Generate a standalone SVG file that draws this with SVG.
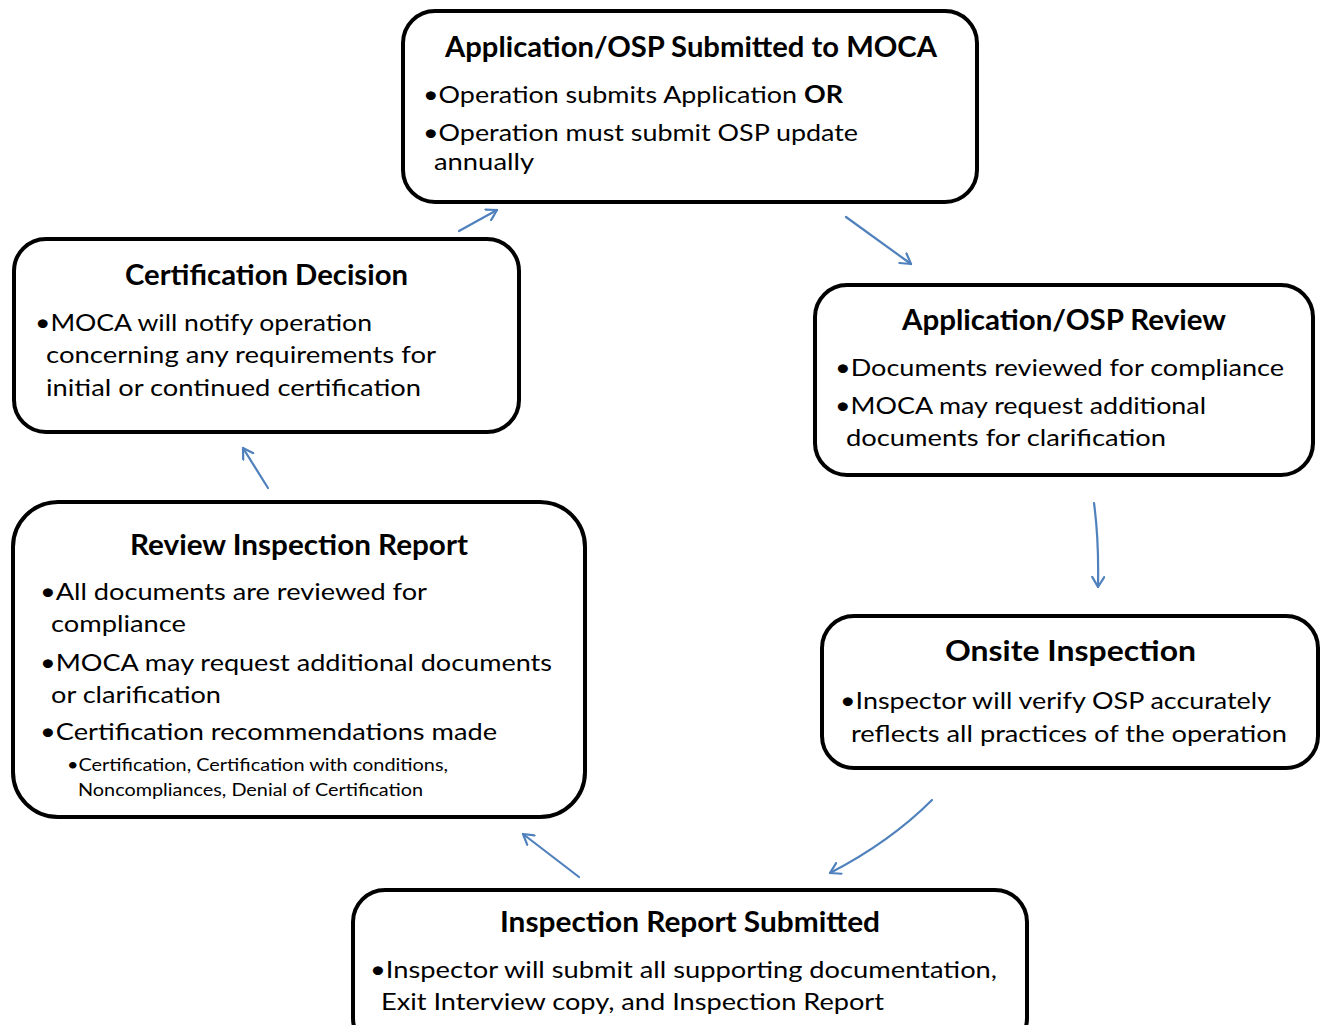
<svg xmlns="http://www.w3.org/2000/svg" width="1321" height="1025" viewBox="0 0 1321 1025">
<defs>
<style>
.box{fill:#fff;stroke:#000;stroke-width:4}
.t{font-family:Lato,"Open Sans","Liberation Sans",sans-serif;font-weight:bold;font-size:28px;fill:#000}
.b{font-family:Lato,"Open Sans","Liberation Sans",sans-serif;font-size:24px;fill:#000}
.s{font-family:Lato,"Open Sans","Liberation Sans",sans-serif;font-size:18px;fill:#000}
.c{fill:none;stroke:#4f81bd;stroke-width:2.2;stroke-linecap:round}
</style>
<marker id="ah" viewBox="0 0 12 14" refX="11" refY="7" markerWidth="12" markerHeight="14" markerUnits="userSpaceOnUse" orient="auto">
<path d="M1,1 L11,7 L1,13" fill="none" stroke="#4f81bd" stroke-width="2.2" stroke-linecap="round" stroke-linejoin="round"/>
</marker>
</defs>
<rect width="1321" height="1025" fill="#fff"/>
<g id="connectors">
<path class="c" d="M459,231 L497,210" marker-end="url(#ah)"/>
<path class="c" d="M846,217 L911,264" marker-end="url(#ah)"/>
<path class="c" d="M1094,503 Q1099,540 1098,587" marker-end="url(#ah)"/>
<path class="c" d="M932,800 Q890,842 830,873" marker-end="url(#ah)"/>
<path class="c" d="M579,877 L523,834" marker-end="url(#ah)"/>
<path class="c" d="M268,488 L243,448" marker-end="url(#ah)"/>
</g>
<g id="node-submitted">
<rect class="box" x="403" y="11" width="574" height="191" rx="32"/>
<text class="t" x="445" y="57" textLength="492" lengthAdjust="spacingAndGlyphs">Application/OSP Submitted to MOCA</text>
<text class="b" x="423" y="103" textLength="420" lengthAdjust="spacingAndGlyphs">•Operation submits Application <tspan font-weight="bold">OR</tspan></text>
<text class="b" x="423" y="141" textLength="435" lengthAdjust="spacingAndGlyphs">•Operation must submit OSP update</text>
<text class="b" x="434" y="170" textLength="100" lengthAdjust="spacingAndGlyphs">annually</text>
</g>
<g id="node-review">
<rect class="box" x="815" y="285" width="498" height="190" rx="32"/>
<text class="t" x="902" y="330" textLength="324" lengthAdjust="spacingAndGlyphs">Application/OSP Review</text>
<text class="b" x="835" y="376" textLength="449" lengthAdjust="spacingAndGlyphs">•Documents reviewed  for compliance</text>
<text class="b" x="835" y="414" textLength="371" lengthAdjust="spacingAndGlyphs">•MOCA may request additional</text>
<text class="b" x="846" y="446" textLength="320" lengthAdjust="spacingAndGlyphs">documents for clarification</text>
</g>
<g id="node-onsite">
<rect class="box" x="822" y="616" width="496" height="152" rx="32"/>
<text class="t" x="945" y="661" font-size="30" textLength="251" lengthAdjust="spacingAndGlyphs">Onsite Inspection</text>
<text class="b" x="840" y="709" textLength="431" lengthAdjust="spacingAndGlyphs">•Inspector will verify OSP accurately</text>
<text class="b" x="851" y="742" textLength="436" lengthAdjust="spacingAndGlyphs">reflects all practices of the operation</text>
</g>
<g id="node-report-submitted">
<rect class="box" x="353" y="890" width="674" height="160" rx="32"/>
<text class="t" x="500" y="932" textLength="380" lengthAdjust="spacingAndGlyphs">Inspection Report Submitted</text>
<text class="b" x="370" y="978" textLength="627" lengthAdjust="spacingAndGlyphs">•Inspector will submit all supporting documentation,</text>
<text class="b" x="381" y="1010" textLength="503" lengthAdjust="spacingAndGlyphs">Exit Interview copy, and Inspection Report</text>
</g>
<g id="node-review-report">
<rect class="box" x="13" y="502" width="572" height="315" rx="45"/>
<text class="t" x="130" y="555" textLength="338" lengthAdjust="spacingAndGlyphs">Review Inspection Report</text>
<text class="b" x="40" y="600" textLength="387" lengthAdjust="spacingAndGlyphs">•All documents are reviewed for</text>
<text class="b" x="51" y="632" textLength="135" lengthAdjust="spacingAndGlyphs">compliance</text>
<text class="b" x="40" y="671" textLength="512" lengthAdjust="spacingAndGlyphs">•MOCA may request additional documents</text>
<text class="b" x="51" y="703" textLength="170" lengthAdjust="spacingAndGlyphs">or clarification</text>
<text class="b" x="40" y="740" textLength="457" lengthAdjust="spacingAndGlyphs">•Certification recommendations made</text>
<text class="s" x="67" y="771" textLength="381" lengthAdjust="spacingAndGlyphs">•Certification, Certification with conditions,</text>
<text class="s" x="78" y="796" textLength="345" lengthAdjust="spacingAndGlyphs">Noncompliances, Denial of Certification</text>
</g>
<g id="node-decision">
<rect class="box" x="14" y="239" width="505" height="193" rx="32"/>
<text class="t" x="125" y="285" textLength="283" lengthAdjust="spacingAndGlyphs">Certification Decision</text>
<text class="b" x="35" y="331" textLength="337" lengthAdjust="spacingAndGlyphs">•MOCA will notify operation</text>
<text class="b" x="46" y="363" textLength="390" lengthAdjust="spacingAndGlyphs">concerning any requirements for</text>
<text class="b" x="46" y="396" textLength="375" lengthAdjust="spacingAndGlyphs">initial or continued certification</text>
</g>
</svg>
